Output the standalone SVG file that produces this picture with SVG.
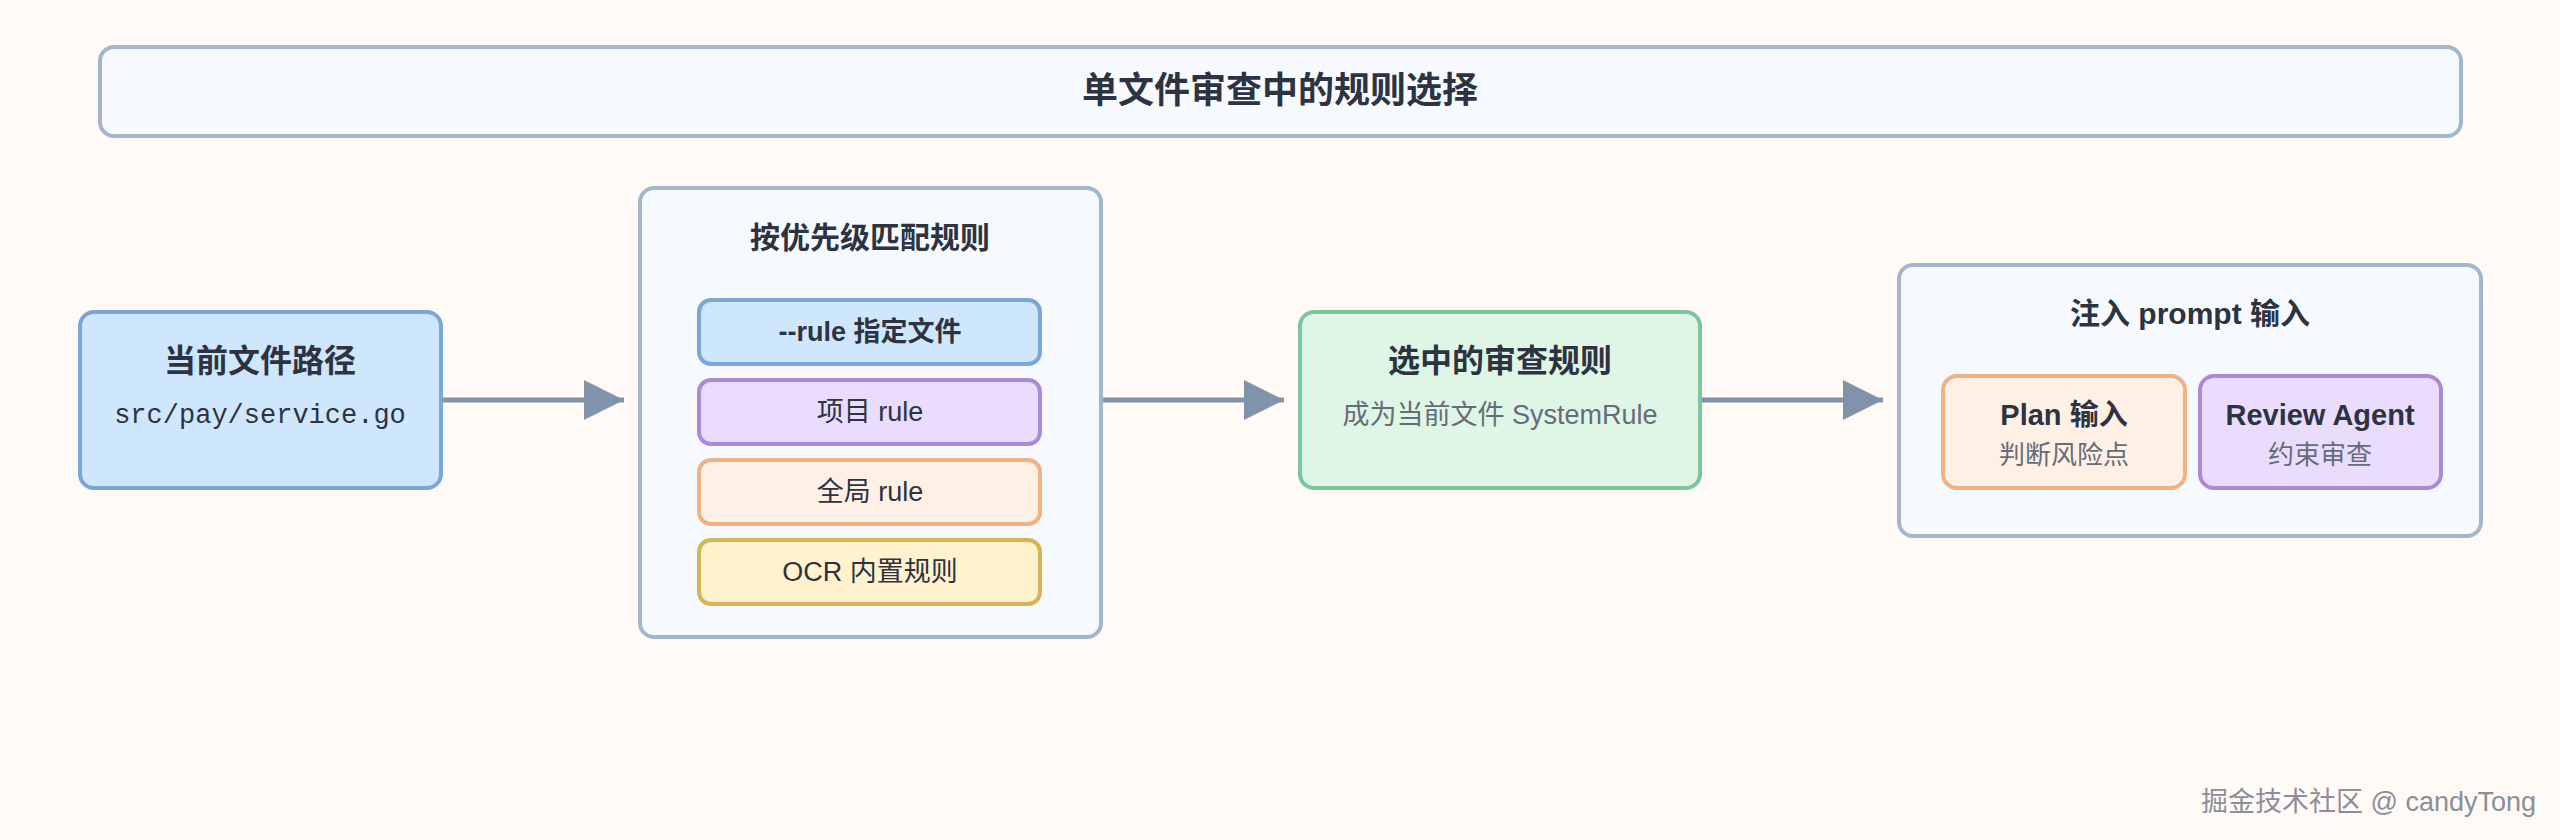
<svg xmlns="http://www.w3.org/2000/svg" width="2560" height="840" viewBox="0 0 2560 840">
<style>
text{font-family:"Liberation Sans","Noto Sans CJK SC",sans-serif;fill:#2d3340;text-anchor:middle;dominant-baseline:central}
.b{font-weight:bold}
.t{font-size:32px;font-weight:bold}
.s{font-size:27px;fill:#666c78}
.i{font-size:27px}
.mono{font-family:"Liberation Mono",monospace;font-size:27px}
.grp{fill:#f6f9fd;stroke:#a3b6cc;stroke-width:4}
.blue{fill:#cfe7fc;stroke:#7aa7d6;stroke-width:4}
.purple{fill:#e9dcfc;stroke:#a88cd8;stroke-width:4}
.orange{fill:#fff0e6;stroke:#f0b183;stroke-width:4}
.yellow{fill:#fff2cc;stroke:#d6b455;stroke-width:4}
.green{fill:#dff5e6;stroke:#7dc59b;stroke-width:4}
.line{stroke:#8093aa;stroke-width:5;fill:none}
</style>
<defs><marker id="ah" markerWidth="10" markerHeight="10" refX="9" refY="5" orient="auto" markerUnits="userSpaceOnUse" viewBox="0 0 10 10"><path d="M0,0 L10,5 L0,10 z" fill="#8093aa"/></marker>
<marker id="a" viewBox="0 0 40 40" refX="40" refY="20" markerWidth="40" markerHeight="40" markerUnits="userSpaceOnUse" orient="auto"><path d="M0,0 L40,20 L0,40 z" fill="#8093aa"/></marker></defs>
<rect width="2560" height="840" fill="#fffaf5"/>
<g id="title"><rect x="100" y="47" width="2361" height="89" rx="14" class="grp"/><text x="1280" y="90" style="font-size:36px" class="b">单文件审查中的规则选择</text></g>
<g id="connectors">
<line x1="441" y1="400" x2="624" y2="400" class="line" marker-end="url(#a)"/>
<line x1="1101" y1="400" x2="1284" y2="400" class="line" marker-end="url(#a)"/>
<line x1="1700" y1="400" x2="1883" y2="400" class="line" marker-end="url(#a)"/>
</g>
<g id="path"><rect x="80" y="312" width="361" height="176" rx="14" class="blue"/><text x="260" y="361" class="t">当前文件路径</text><text x="260" y="416" class="mono">src/pay/service.go</text></g>
<g id="match"><rect x="640" y="188" width="461" height="449" rx="14" class="grp"/><text x="870" y="237" class="t" style="font-size:30px">按优先级匹配规则</text>
<g id="r1"><rect x="699" y="300" width="341" height="64" rx="12" class="blue"/><text x="870" y="332" class="i b">--rule 指定文件</text></g>
<g id="r2"><rect x="699" y="380" width="341" height="64" rx="12" class="purple"/><text x="870" y="412" class="i">项目 rule</text></g>
<g id="r3"><rect x="699" y="460" width="341" height="64" rx="12" class="orange"/><text x="870" y="492" class="i">全局 rule</text></g>
<g id="r4"><rect x="699" y="540" width="341" height="64" rx="12" class="yellow"/><text x="870" y="572" class="i">OCR 内置规则</text></g>
</g>
<g id="selected"><rect x="1300" y="312" width="400" height="176" rx="14" class="green"/><text x="1500" y="361" class="t">选中的审查规则</text><text x="1500" y="415" class="s">成为当前文件 SystemRule</text></g>
<g id="inject"><rect x="1899" y="265" width="582" height="271" rx="14" class="grp"/><text x="2190" y="313" class="t" style="font-size:30px">注入 prompt 输入</text>
<g id="plan"><rect x="1943" y="376" width="242" height="112" rx="14" class="orange"/><text x="2064" y="415" class="t" style="font-size:29px">Plan 输入</text><text x="2064" y="455" class="s" style="font-size:26px">判断风险点</text></g>
<g id="review"><rect x="2200" y="376" width="241" height="112" rx="14" class="purple"/><text x="2320" y="415" class="t" style="font-size:29px">Review Agent</text><text x="2320" y="455" class="s" style="font-size:26px">约束审查</text></g>
</g>
<text x="2536" y="802" style="font-size:27px;text-anchor:end;fill:#8a8f99">掘金技术社区 @ candyTong</text>
</svg>
